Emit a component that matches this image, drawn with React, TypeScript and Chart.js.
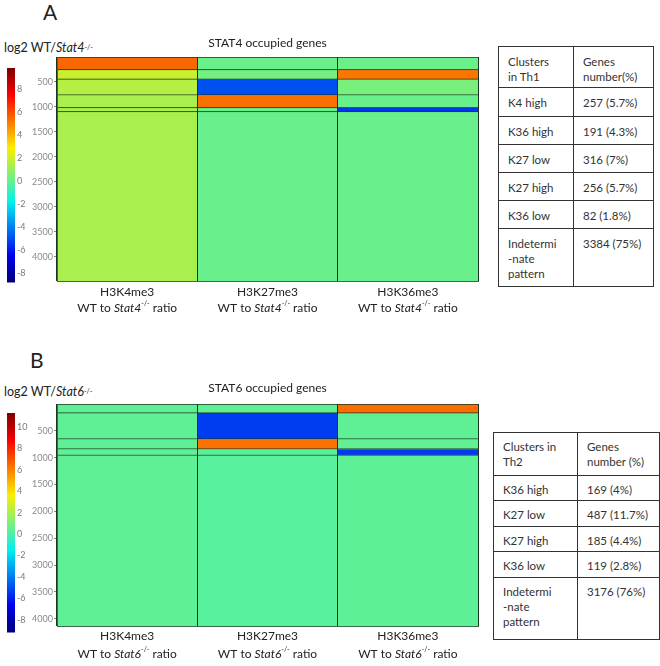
import React, { useEffect, useRef } from 'react';
import { Chart, registerables } from 'chart.js';

Chart.register(...registerables);

const FONT = 'Lato, "Open Sans", sans-serif';

// ---------- shared ----------
const columns = ['H3K4me3', 'H3K27me3', 'H3K36me3'];

// ---------- Panel A : Th1 / STAT4 ----------
const clustersA = ['K4 high', 'K36 high', 'K27 low', 'K27 high', 'K36 low', 'Indeterminate pattern'];
const genesA = [257, 191, 316, 256, 82, 3384];
const pctA = ['5.7%', '4.3%', '7%', '5.7%', '1.8%', '75%'];
// log2 WT/Stat4-/- per cluster for each mark
const log2K4A = [5.5, 1.9, 1.5, 1.3, 1.3, 1.3];
const log2K27A = [0.12, 0.3, -5.0, 5.3, 0.15, 0.1];
const log2K36A = [0.12, 5.2, 0.4, 0.08, -5.5, 0.1];
const yTicksA = [500, 1000, 1500, 2000, 2500, 3000, 3500, 4000];
const colorTicksA = [-8, -6, -4, -2, 0, 2, 4, 6, 8];
const colorRangeA: [number, number] = [-8.87, 9.83];

// ---------- Panel B : Th2 / STAT6 ----------
const clustersB = ['K36 high', 'K27 low', 'K27 high', 'K36 low', 'Indeterminate pattern'];
const genesB = [169, 487, 185, 119, 3176];
const pctB = ['4%', '11.7%', '4.4%', '2.8%', '76%'];
const log2K4B = [0.44, 0.44, 0.44, 0.44, 0.44];
const log2K27B = [0.44, -5.36, 6.28, 0.3, 0.28];
const log2K36B = [6.4, 0.44, 0.5, -5.4, 0.42];
const yTicksB = [500, 1000, 1500, 2000, 2500, 3000, 3500, 4000];
const colorTicksB = [-8, -6, -4, -2, 0, 2, 4, 6, 8, 10];
const colorRangeB: [number, number] = [-9.2, 11.3];

// ---------- colour map (jet) ----------
function jetCss(t: number) {
  const c = (x: number) => Math.max(0, Math.min(1, x));
  const r = c(1.5 - Math.abs(4 * t - 3));
  const g = c(1.5 - Math.abs(4 * t - 2));
  const b = c(1.5 - Math.abs(4 * t - 1));
  return `rgb(${Math.round(r * 250)},${Math.round(g * 240)},${Math.round(b * 240)})`;
}
function valueColor(v: number, range: [number, number]) {
  return jetCss((v - range[0]) / (range[1] - range[0]));
}

// ---------- Heatmap ----------
type HeatProps = {
  clusters: string[];
  genes: number[];
  marks: number[][];
  range: [number, number];
  yTicks: number[];
  title: string;
  stat: string;
  left: number;
  top: number;
  width: number;
  height: number;
  padTop: number;
  titleOff: number;
  off1: number;
  off2: number;
};

function Heatmap(p: HeatProps) {
  const ref = useRef<HTMLCanvasElement>(null);
  useEffect(() => {
    const starts: number[] = [];
    let acc = 0;
    p.genes.forEach((g) => {
      starts.push(acc);
      acc += g;
    });
    const total = acc;
    const n = p.genes.length;
    const datasets = p.genes.map((g, i) => ({
      label: p.clusters[i],
      data: columns.map(() => [starts[i], starts[i] + g]),
      backgroundColor: p.marks.map((vals) => valueColor(vals[i], p.range)),
      borderColor: '#1b3322',
      borderWidth: { top: i === 0 ? 1 : 0, bottom: i < n - 1 ? 1 : 0, left: 0, right: 0 },
      borderSkipped: false,
      grouped: false,
      categoryPercentage: 1,
      barPercentage: 1,
    }));

    const labelPlugin = {
      id: 'richLabels',
      afterDraw(chart: any) {
        const { ctx, chartArea, scales } = chart;
        ctx.save();
        ctx.fillStyle = '#222';
        ctx.textBaseline = 'middle';
        ctx.font = `12px ${FONT}`;
        ctx.textAlign = 'center';
        ctx.fillText(p.title, (chartArea.left + chartArea.right) / 2, chartArea.top - p.titleOff);
        columns.forEach((col, i) => {
          const x = scales.x.getPixelForValue(i);
          ctx.font = `12px ${FONT}`;
          ctx.textAlign = 'center';
          ctx.fillText(col, x, chartArea.bottom + p.off1);
          const segs = [
            { t: 'WT to ', f: `12px ${FONT}`, dy: 0 },
            { t: p.stat, f: `italic 12px ${FONT}`, dy: 0 },
            { t: '-/-', f: `7px ${FONT}`, dy: -4 },
            { t: ' ratio', f: `12px ${FONT}`, dy: 0 },
          ];
          let w = 0;
          segs.forEach((s) => {
            ctx.font = s.f;
            w += ctx.measureText(s.t).width;
          });
          let cx = x - w / 2;
          ctx.textAlign = 'left';
          segs.forEach((s) => {
            ctx.font = s.f;
            ctx.fillText(s.t, cx, chartArea.bottom + p.off2 + s.dy);
            cx += ctx.measureText(s.t).width;
          });
        });
        ctx.restore();
      },
    };

    const chart = new Chart(ref.current as HTMLCanvasElement, {
      type: 'bar',
      data: { labels: columns, datasets: datasets as any },
      options: {
        animation: false,
        responsive: false,
        maintainAspectRatio: false,
        layout: { padding: { left: 0, right: 2, top: p.padTop, bottom: 0 } },
        plugins: {
          legend: { display: false },
          tooltip: { enabled: false },
          title: { display: false },
        },
        scales: {
          x: {
            type: 'category',
            offset: true,
            grid: { display: true, offset: true, color: '#1b3322', z: 1, drawTicks: false },
            border: { display: true, color: '#3d6a48', z: 2 },
            ticks: { display: false },
            afterFit: (s: any) => {
              s.height = 40;
            },
          },
          y: {
            type: 'linear',
            reverse: true,
            min: 0,
            max: total,
            afterBuildTicks: (s: any) => {
              s.ticks = p.yTicks.map((v) => ({ value: v }));
            },
            ticks: {
              color: '#8a8a8a',
              font: { family: FONT, size: 9 },
              padding: 1,
              callback: (v: any) => String(v),
            },
            grid: { drawOnChartArea: false, tickLength: 3, color: '#8a8a8a' },
            border: { display: true, color: '#3d6a48', z: 2 },
            afterFit: (s: any) => {
              s.width = 57;
            },
          },
        },
      } as any,
      plugins: [labelPlugin],
    });
    return () => chart.destroy();
  }, []);
  return (
    <canvas
      ref={ref}
      width={p.width}
      height={p.height}
      style={{ position: 'absolute', left: p.left, top: p.top, width: p.width, height: p.height }}
    />
  );
}

// ---------- Colour bar ----------
type BarProps = { range: [number, number]; ticks: number[]; top: number; height: number };

function ColorBar(p: BarProps) {
  const ref = useRef<HTMLCanvasElement>(null);
  useEffect(() => {
    const chart = new Chart(ref.current as HTMLCanvasElement, {
      type: 'bar',
      data: {
        labels: [''],
        datasets: [
          {
            data: [[p.range[0], p.range[1]]] as any,
            backgroundColor: (c: any) => {
              const ca = c.chart.chartArea;
              if (!ca) return 'transparent';
              const g = c.chart.ctx.createLinearGradient(0, ca.bottom, 0, ca.top);
              for (let k = 0; k <= 40; k++) g.addColorStop(k / 40, jetCss(k / 40));
              return g;
            },
            borderWidth: 0,
            categoryPercentage: 1,
            barPercentage: 1,
          },
        ],
      },
      options: {
        animation: false,
        responsive: false,
        maintainAspectRatio: false,
        layout: { padding: { left: 7, top: 8, bottom: 7, right: 0 } },
        plugins: { legend: { display: false }, tooltip: { enabled: false } },
        scales: {
          x: { display: false },
          y: {
            position: 'right',
            min: p.range[0],
            max: p.range[1],
            afterBuildTicks: (s: any) => {
              s.ticks = p.ticks.map((v) => ({ value: v }));
            },
            ticks: { color: '#7a7a7a', font: { family: FONT, size: 9 }, padding: 2 },
            grid: { display: false, drawTicks: false },
            border: { display: false },
            afterFit: (s: any) => {
              s.width = 25;
            },
          },
        },
      } as any,
    });
    return () => chart.destroy();
  }, []);
  return (
    <canvas
      ref={ref}
      width={40}
      height={p.height}
      style={{ position: 'absolute', left: 0, top: p.top, width: 40, height: p.height }}
    />
  );
}

// ---------- Table ----------
type TableProps = {
  left: number;
  top: number;
  width: number;
  col1: number;
  rowHeights: number[];
  head1: React.ReactNode;
  head2: React.ReactNode;
  clusters: string[];
  genes: number[];
  pct: string[];
  pad: number;
};

function ClusterTable(p: TableProps) {
  const cell: React.CSSProperties = {
    border: '1px solid #333',
    padding: `${p.pad}px 4px 0 9px`,
    verticalAlign: 'top',
    boxSizing: 'border-box',
    overflow: 'hidden',
  };
  const label = (c: string) =>
    c === 'Indeterminate pattern' ? (
      <>
        Indetermi
        <br />
        -nate
        <br />
        pattern
      </>
    ) : (
      c
    );
  return (
    <table
      style={{
        position: 'absolute',
        left: p.left,
        top: p.top,
        width: p.width,
        borderCollapse: 'collapse',
        tableLayout: 'fixed',
        fontFamily: FONT,
        fontSize: 11.5,
        lineHeight: '15px',
        color: '#333',
      }}
    >
      <colgroup>
        <col style={{ width: p.col1 }} />
        <col style={{ width: p.width - p.col1 }} />
      </colgroup>
      <tbody>
        <tr style={{ height: p.rowHeights[0] }}>
          <td style={cell}>{p.head1}</td>
          <td style={cell}>{p.head2}</td>
        </tr>
        {p.clusters.map((c, i) => (
          <tr key={c} style={{ height: p.rowHeights[i + 1] }}>
            <td style={cell}>{label(c)}</td>
            <td style={cell}>{`${p.genes[i]} (${p.pct[i]})`}</td>
          </tr>
        ))}
      </tbody>
    </table>
  );
}

// ---------- App ----------
export default function App() {
  const text: React.CSSProperties = { position: 'absolute', fontFamily: FONT, color: '#222', whiteSpace: 'nowrap' };
  const sup: React.CSSProperties = { fontSize: 7, verticalAlign: 'top', position: 'relative', top: -1 };
  return (
    <div style={{ position: 'absolute', left: 0, top: 0, width: 660, height: 666, background: '#fff', overflow: 'hidden' }}>
      {/* Panel A */}
      <div style={{ ...text, left: 43, top: 0, fontSize: 21, lineHeight: '24px' }}>A</div>
      <div style={{ ...text, left: 4, top: 40, fontSize: 12.5, lineHeight: '16px' }}>
        log2 WT/<i>Stat4</i>
        <span style={sup}>-/-</span>
      </div>
      <ColorBar range={colorRangeA} ticks={colorTicksA} top={60} height={230} />
      <Heatmap
        clusters={clustersA}
        genes={genesA}
        marks={[log2K4A, log2K27A, log2K36A]}
        range={colorRangeA}
        yTicks={yTicksA}
        title="STAT4 occupied genes"
        stat="Stat4"
        left={0}
        top={30}
        width={480}
        height={291}
        padTop={27}
        titleOff={14}
        off1={11}
        off2={27}
      />
      <ClusterTable
        left={498}
        top={46}
        width={155}
        col1={75}
        rowHeights={[41, 29, 28, 28, 28, 28, 58]}
        head1={
          <>
            Clusters
            <br />
            in Th1
          </>
        }
        head2={
          <>
            Genes
            <br />
            number(%)
          </>
        }
        clusters={clustersA}
        genes={genesA}
        pct={pctA}
        pad={7}
      />

      {/* Panel B */}
      <div style={{ ...text, left: 30, top: 348, fontSize: 21, lineHeight: '24px' }}>B</div>
      <div style={{ ...text, left: 4, top: 384, fontSize: 12.5, lineHeight: '16px' }}>
        log2 WT/<i>Stat6</i>
        <span style={sup}>-/-</span>
      </div>
      <ColorBar range={colorRangeB} ticks={colorTicksB} top={405} height={235} />
      <Heatmap
        clusters={clustersB}
        genes={genesB}
        marks={[log2K4B, log2K27B, log2K36B]}
        range={colorRangeB}
        yTicks={yTicksB}
        title="STAT6 occupied genes"
        stat="Stat6"
        left={0}
        top={376}
        width={480}
        height={290}
        padTop={28}
        titleOff={16}
        off1={10}
        off2={28}
      />
      <ClusterTable
        left={493}
        top={432}
        width={166}
        col1={84}
        rowHeights={[43, 25, 26, 25, 26, 62]}
        head1={
          <>
            Clusters in
            <br />
            Th2
          </>
        }
        head2={
          <>
            Genes
            <br />
            number (%)
          </>
        }
        clusters={clustersB}
        genes={genesB}
        pct={pctB}
        pad={6}
      />
    </div>
  );
}
